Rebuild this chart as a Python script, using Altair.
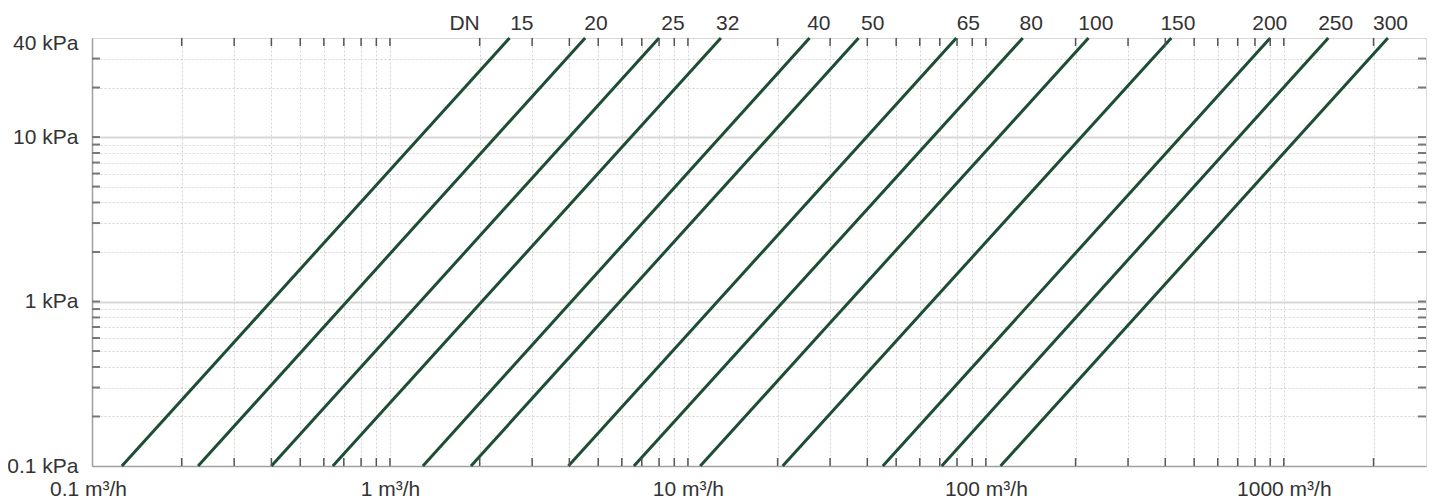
import altair as alt
import pandas as pd

# ---- data ----
DN = ["15", "20", "25", "32", "40", "50", "65", "80", "100", "150", "200", "250", "300"]
# flow (m³/h) where each DN line meets 0.1 kPa and 40 kPa
Q_LOW = [0.126, 0.227, 0.400, 0.643, 1.29, 1.87, 3.97, 6.59, 11.0, 20.8, 45.1, 71.1, 112]
Q_HIGH = [2.52, 4.52, 8.0, 12.9, 25.6, 37.4, 79.6, 133, 221, 419, 900, 1410, 2235]
P_LOW = 0.1
P_HIGH = 40
# x position (m³/h) of the DN labels above the chart
LABEL_Q = [2.77, 4.91, 8.91, 13.6, 27.5, 41.7, 87.3, 141.9, 234, 441, 897, 1493, 2280]
DN_TITLE_Q = 1.78

X_DOMAIN = [0.1, 3000]
Y_DOMAIN = [0.1, 40]
X_LABELS = [0.1, 1, 10, 100, 1000]
Y_LABELS = [0.1, 1, 10, 40]
X_TICKS = [round(m * d, 6) for d in (0.1, 1, 10, 100, 1000) for m in range(1, 10)
           if 0.1 < round(m * d, 6) < 3000]
Y_TICKS = [round(m * d, 6) for d in (0.1, 1, 10) for m in range(1, 10)
           if 0.1 < round(m * d, 6) < 40]

# ---- style ----
W, H = 1334, 428
FONT = "Liberation Sans"
TXT = "#333333"
GREEN = "#1d4d35"
TICK = "#555555"
TL = 8

rows = []
for d, ql, qh in zip(DN, Q_LOW, Q_HIGH):
    rows.append({"dn": d, "q": ql, "p": P_LOW})
    rows.append({"dn": d, "q": qh, "p": P_HIGH})
df_lines = pd.DataFrame(rows)
df_labels = pd.DataFrame({"q": LABEL_Q + [DN_TITLE_Q], "t": DN + ["DN"]})
df_xt = pd.DataFrame({"v": X_TICKS})
df_yt = pd.DataFrame({"v": Y_TICKS})

xs = alt.Scale(type="log", domain=X_DOMAIN, nice=False)
ys = alt.Scale(type="log", domain=Y_DOMAIN, nice=False)

xlab = "[" + ",".join(str(v) for v in X_LABELS) + "]"
ylab = "[" + ",".join(str(v) for v in Y_LABELS) + "]"

x_axis = alt.Axis(
    values=[0.1] + X_TICKS, title=None, ticks=False, grid=True,
    gridDash=[2, 2], gridColor="#d2d2d2", gridWidth=1,
    domainColor="#a0a0a0", domainWidth=1.5,
    labelExpr=f"indexof({xlab}, datum.value) >= 0 ? datum.value + ' m³/h' : ''",
    labelFont=FONT, labelFontSize=21, labelColor=TXT, labelPadding=12,
    labelOffset={"condition": {"test": "datum.value == 0.1", "value": -4}, "value": 0},
    labelFlush=False, labelOverlap=False, labelBound=False,
)
y_axis = alt.Axis(
    values=Y_TICKS + [0.1, 40], title=None, ticks=False, grid=True,
    gridDash={"condition": {"test": "datum.value == 1 || datum.value == 10", "value": [1, 0]},
              "value": [2, 2]},
    gridColor={"condition": {"test": "datum.value == 1 || datum.value == 10", "value": "#d8d8d8"},
               "value": "#d2d2d2"},
    gridWidth={"condition": {"test": "datum.value == 1 || datum.value == 10", "value": 2},
               "value": 1},
    domainColor="#a0a0a0", domainWidth=1.5,
    labelExpr=f"indexof({ylab}, datum.value) >= 0 ? datum.value + ' kPa' : ''",
    labelFont=FONT, labelFontSize=21, labelColor=TXT, labelPadding=14,
    labelOffset={"condition": {"test": "datum.value == 40", "value": 5}, "value": 0},
    labelFlush=False, labelOverlap=False, labelBound=False,
)

lines = alt.Chart(df_lines).mark_line(color=GREEN, strokeWidth=3).encode(
    x=alt.X("q:Q", scale=xs, axis=x_axis),
    y=alt.Y("p:Q", scale=ys, axis=y_axis),
    detail="dn:N",
)

xt_bottom = alt.Chart(df_xt).mark_rule(color=TICK, strokeWidth=1.5).encode(
    x=alt.X("v:Q", scale=xs), y=alt.value(H - TL), y2=alt.value(H))
xt_top = alt.Chart(df_xt).mark_rule(color=TICK, strokeWidth=1.5).encode(
    x=alt.X("v:Q", scale=xs), y=alt.value(0), y2=alt.value(TL))
yt_left = alt.Chart(df_yt).mark_rule(color="#777777", strokeWidth=2).encode(
    y=alt.Y("v:Q", scale=ys), x=alt.value(0), x2=alt.value(TL))
yt_right = alt.Chart(df_yt).mark_rule(color="#777777", strokeWidth=2).encode(
    y=alt.Y("v:Q", scale=ys), x=alt.value(W - TL), x2=alt.value(W))

labels = alt.Chart(df_labels).mark_text(
    font=FONT, fontSize=21, color=TXT, baseline="alphabetic", align="center", dy=-8
).encode(
    x=alt.X("q:Q", scale=xs),
    y=alt.datum(P_HIGH),
    text="t:N",
)

chart = alt.layer(lines, xt_bottom, xt_top, yt_left, yt_right, labels).properties(
    width=W, height=H,
    autosize=alt.AutoSizeParams(type="none"),
    padding={"left": 84, "top": 30, "right": 1, "bottom": 34},
).configure_view(fill="#f1f1f1", stroke="#a0a0a0", strokeWidth=1.5).configure(
    background="white"
)

chart.save("out.html", embed_options={"renderer": "svg", "actions": False})
